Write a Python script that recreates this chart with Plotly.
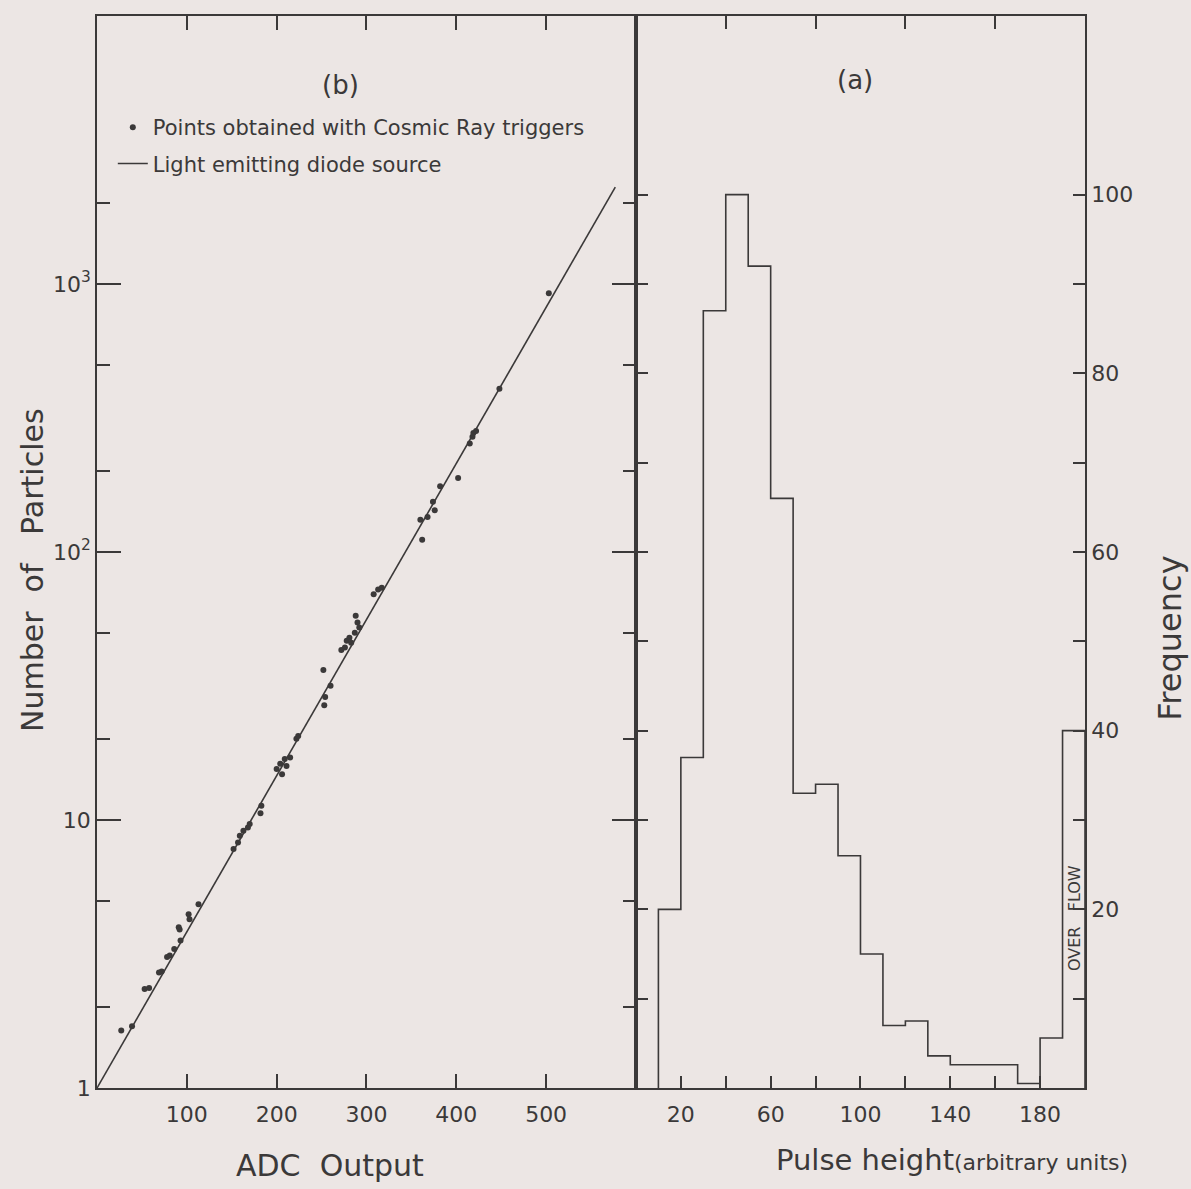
import plotly.graph_objects as go

# ---- Panel (b): ADC output vs number of particles ----
adc = [27, 39, 53, 58, 69, 72, 78, 81, 86, 91, 92, 93, 102, 103, 113,
       152, 157, 159, 163, 168, 170, 182, 183,
       200, 204, 206, 209, 211, 215,
       222, 224,
       252, 253, 254, 260,
       272, 276, 278, 281, 283, 287, 288, 290, 292,
       308, 313, 317,
       360, 362, 368, 374, 376, 382, 402,
       415, 418, 419, 422, 448, 503]
particles = [1.64, 1.7, 2.34, 2.36, 2.7, 2.72, 3.08, 3.12, 3.3, 3.98, 3.9, 3.55, 4.45, 4.26, 4.85,
             7.8, 8.24, 8.73, 9.11, 9.38, 9.66, 10.6, 11.3,
             15.5, 16.2, 14.8, 16.9, 15.9, 17.1,
             20.1, 20.6,
             36.3, 26.8, 28.8, 31.7,
             43.1, 44, 46.6, 47.9, 45.9, 50, 57.8, 54.6, 52.3,
             69.5, 72.4, 73.6,
             132, 111, 135, 154, 143, 176, 189,
             254, 269, 278, 283, 407, 923]
led_adc = [0, 577]
led_particles = [1, 2300]

left_xtick_vals = [100, 200, 300, 400, 500]
left_ytick_vals = [1, 10, 100, 1000]
left_ytick_text = ["1", "10", "10<sup>2</sup>", "10<sup>3</sup>"]
left_yminor_vals = [2, 5, 20, 50, 200, 500, 2000]

# ---- Panel (a): pulse height histogram ----
bin_edges = [10, 20, 30, 40, 50, 60, 70, 80, 90, 100, 110, 120, 130, 140,
             150, 160, 170, 180, 190, 200]
frequency = [20, 37, 87, 100, 92, 66, 33, 34, 26, 15, 7, 7.5, 3.6, 2.6,
             2.6, 2.6, 0.5, 5.6, 40]
right_xtick_vals = [20, 40, 60, 80, 100, 120, 140, 160, 180]
right_xtick_text = ["20", "", "60", "", "100", "", "140", "", "180"]
right_xtop_vals = [40, 80, 120, 160]
right_ytick_vals = [10, 20, 30, 40, 50, 60, 70, 80, 90, 100]
right_ytick_text = ["", "20", "", "40", "", "60", "", "80", "", "100"]

INK = "#3b3939"
PAPER = "#ece6e4"
FONT = "DejaVu Sans"

step_x = [bin_edges[0]] + bin_edges[:-1] + [bin_edges[-1], bin_edges[-1]]
step_y = [0] + frequency + [frequency[-1], 0]

fig = go.Figure()
fig.add_trace(go.Scatter(
    x=adc, y=particles, mode="markers",
    marker=dict(color=INK, size=6),
    name="Points obtained with Cosmic Ray triggers",
    xaxis="x", yaxis="y", legendgroup="a"))
fig.add_trace(go.Scatter(
    x=led_adc, y=led_particles, mode="lines",
    line=dict(color=INK, width=1.6),
    name="Light emitting diode source",
    xaxis="x", yaxis="y", legendgroup="b"))
fig.add_trace(go.Scatter(
    x=step_x, y=step_y, mode="lines", line_shape="hv",
    line=dict(color=INK, width=1.6), showlegend=False,
    xaxis="x2", yaxis="y2"))
fig.add_trace(go.Scatter(
    x=[bin_edges[0]], y=[0], mode="markers", marker=dict(opacity=0),
    showlegend=False, hoverinfo="skip", xaxis="x3", yaxis="y2"))

split = 0.5455
axis_common = dict(showgrid=False, zeroline=False, showline=True,
                   linecolor=INK, linewidth=1.6, ticks="inside",
                   tickcolor=INK, tickwidth=1.5,
                   tickfont=dict(family=FONT, size=22, color=INK))

fig.update_layout(
    width=1191, height=1189,
    margin=dict(l=97, r=106, t=16, b=101),
    paper_bgcolor=PAPER, plot_bgcolor=PAPER,
    font=dict(family=FONT, color=INK),
    showlegend=True,
    legend=dict(x=0.016, y=0.915, xanchor="left", yanchor="top",
                bgcolor="rgba(0,0,0,0)", font=dict(family=FONT, size=21, color=INK),
                tracegroupgap=6, itemwidth=30),
    xaxis=dict(domain=[0, split], range=[0, 600], tickvals=left_xtick_vals,
               ticklen=14, mirror="ticks", anchor="y", ticklabelstandoff=6,
               **axis_common),
    yaxis=dict(domain=[0, 1], type="log", range=[0, 4], tickvals=left_ytick_vals,
               ticktext=left_ytick_text, ticklen=24, mirror="ticks", anchor="x",
               minor=dict(tickvals=left_yminor_vals, ticklen=13, ticks="inside",
                          tickcolor=INK, tickwidth=1.5),
               **axis_common),
    xaxis2=dict(domain=[split, 1], range=[0, 200], tickvals=right_xtick_vals,
                ticktext=right_xtick_text, ticklen=12, mirror=True, anchor="y2",
                ticklabelstandoff=6, **axis_common),
    xaxis3=dict(overlaying="x2", side="top", range=[0, 200], tickvals=right_xtop_vals,
                showticklabels=False, ticks="inside", ticklen=13, tickcolor=INK,
                tickwidth=1.5, showline=False, showgrid=False, zeroline=False,
                anchor="y2"),
    yaxis2=dict(domain=[0, 1], range=[0, 120], side="right", anchor="x2",
                tickvals=right_ytick_vals, ticktext=right_ytick_text,
                ticklen=12, mirror="ticks", **axis_common),
)

def ann(text, x, y, size, angle=0, xref="paper", yref="paper"):
    fig.add_annotation(text=text, x=x, y=y, xref=xref, yref=yref,
                       xanchor="center", yanchor="middle",
                       showarrow=False, textangle=angle,
                       font=dict(family=FONT, size=size, color=INK))

ann("Number\u00a0 of\u00a0 \u00a0Particles", -0.066, 0.483, 30, -90)
ann("ADC\u00a0 Output", 0.236, -0.072, 30)
ann("Pulse height<span style='font-size:22px'>(arbitrary units)</span>", 0.865, -0.067, 29)
ann("Frequency", 1.086, 0.42, 32, -90)
ann("(b)", 0.246, 0.936, 26)
ann("(a)", 0.767, 0.940, 26)
ann("OVER\u00a0 \u00a0FLOW", 195, 19, 16, -90, xref="x2", yref="y2")

fig.write_html(
    "out.html",
    config={"displayModeBar": False},
    post_script="document.body.style.margin='0';document.body.style.background='#ece6e4';",
)
